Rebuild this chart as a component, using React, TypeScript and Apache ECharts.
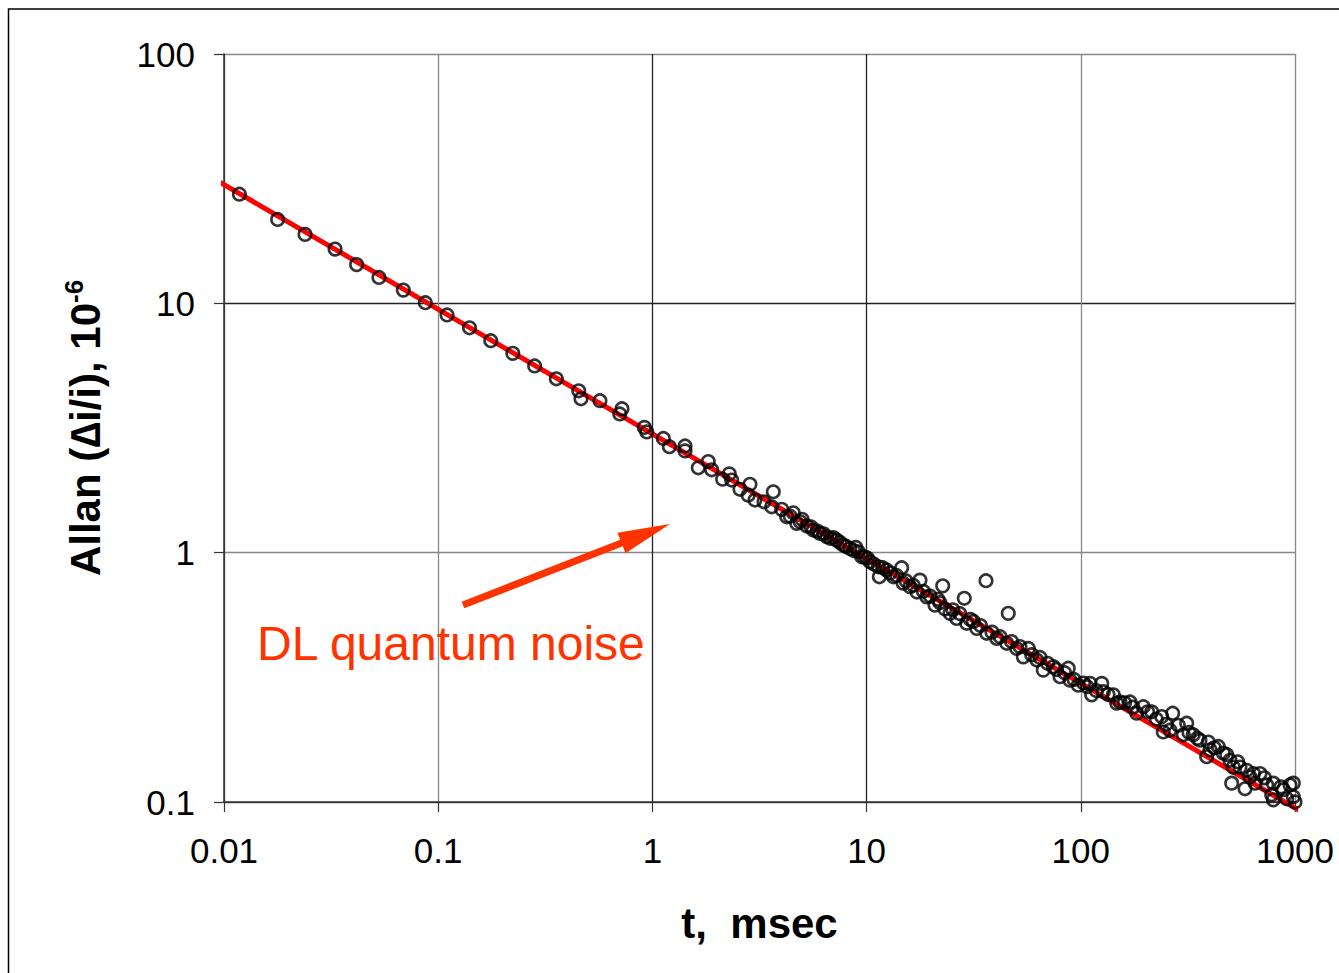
import React, { useEffect, useRef } from "react";
import * as echarts from "echarts";

const xTickLabels = ["0.01", "0.1", "1", "10", "100", "1000"];
const yTickLabels = ["0.1", "1", "10", "100"];

const tMsec = [
  0.0118, 0.0178, 0.0239, 0.033, 0.0416, 0.0529, 0.0687, 0.0871, 0.11, 0.14,
  0.176, 0.223, 0.282, 0.356, 0.453, 0.464, 0.569, 0.704, 0.721, 0.917,
  0.941, 1.125, 1.2, 1.42, 1.42, 1.638, 1.824, 1.891, 2.128, 2.286,
  2.345, 2.564, 2.8, 2.855, 3.013, 3.319, 3.606, 3.667, 4.015, 4.236,
  4.548, 4.717, 5.253, 5.64, 6.06, 6.51, 7.25, 7.78, 8.36, 9.15,
  9.49, 10.37, 11.34, 11.47, 12.41, 13.33, 14.58, 14.79, 15.94, 17.19,
  17.75, 19.08, 20.86, 22.66, 23.23, 24.52, 26.34, 28.58, 29.33, 32.66,
  36.09, 36.37, 40.5, 45.1, 45.86, 50.2, 53.9, 56.9, 62.3, 66.8,
  74.4, 80.0, 87.4, 89.0, 97.3, 110.4, 112.4, 125.2, 127.4, 141.8,
  147.2, 152.4, 169.7, 182.4, 195.8, 214.3, 238.6, 242.7, 260.9, 268.5,
  285.3, 301.0, 312.2, 335.1, 360.1, 387.0, 393.8, 401.1, 438.5, 462.8,
  497.1, 506.4, 515.2, 553.6, 584.4, 595.0, 616.6, 650.7, 686.6, 737.9,
  778.3, 791.9, 791.9, 882.0, 915.0, 947.8, 982.0, 982.0, 1000,
  4.4, 4.9, 5.0, 5.5, 5.9, 6.3, 6.8, 7.0, 7.5, 8.0,
  8.7, 8.9, 9.8, 10.1, 10.8, 11.9, 12.9, 13.8, 15.3, 16.5,
  18.4, 19.8, 21.5, 22.0, 25.3, 27.2, 30.5, 31.5, 34.0, 38.5,
  42.0, 47.5, 52.0, 59.0, 64.5, 70.0, 77.0, 84.0, 93.0, 103.0,
  107.0, 118.0, 134.0, 160.0, 175.0, 205.0, 225.0, 250.0, 320.0, 350.0,
  420.0, 480.0, 540.0, 640.0, 720.0, 860.0,
];

const allanDev = [
  27.4, 21.7, 18.9, 16.5, 14.3, 12.7, 11.3, 10.06, 8.98, 7.98,
  7.08, 6.3, 5.61, 4.98, 4.46, 4.14, 4.07, 3.6, 3.78, 3.18,
  3.05, 2.87, 2.66, 2.68, 2.56, 2.19, 2.32, 2.15, 1.97, 2.07,
  1.955, 1.795, 1.7, 1.88, 1.626, 1.6, 1.528, 1.755, 1.492, 1.393,
  1.445, 1.311, 1.279, 1.232, 1.195, 1.158, 1.123, 1.073, 1.04, 1.008,
  0.963, 0.919, 0.878, 0.8, 0.851, 0.8, 0.87, 0.755, 0.73, 0.695,
  0.776, 0.665, 0.616, 0.736, 0.594, 0.571, 0.545, 0.656, 0.521, 0.497,
  0.772, 0.475, 0.453, 0.433, 0.571, 0.413, 0.382, 0.413, 0.371, 0.338,
  0.349, 0.318, 0.344, 0.308, 0.294, 0.299, 0.269, 0.299, 0.277, 0.269,
  0.249, 0.252, 0.252, 0.227, 0.241, 0.23, 0.22, 0.191, 0.194, 0.227,
  0.203, 0.186, 0.207, 0.186, 0.177, 0.152, 0.174, 0.162, 0.167, 0.157,
  0.147, 0.119, 0.138, 0.138, 0.113, 0.134, 0.126, 0.119, 0.13, 0.117,
  0.107, 0.119, 0.102, 0.112, 0.103, 0.117, 0.105, 0.119, 0.1,
  1.40, 1.33, 1.36, 1.27, 1.22, 1.19, 1.14, 1.15, 1.10, 1.06,
  1.02, 1.05, 0.96, 0.95, 0.90, 0.87, 0.83, 0.81, 0.77, 0.74,
  0.70, 0.67, 0.65, 0.63, 0.59, 0.57, 0.54, 0.53, 0.51, 0.48,
  0.46, 0.44, 0.42, 0.39, 0.38, 0.36, 0.34, 0.33, 0.31, 0.30,
  0.29, 0.28, 0.27, 0.25, 0.24, 0.23, 0.215, 0.205, 0.19, 0.18,
  0.165, 0.155, 0.145, 0.13, 0.125, 0.115,
];

const fitT = [0.0092, 1060];
const fitAllan = [31.2, 0.092];

const FONT = "'Liberation Sans', Arial, Helvetica, sans-serif";

export default function App() {
  const ref = useRef<HTMLDivElement>(null);

  useEffect(() => {
    if (!ref.current) return;
    const prevMargin = document.body.style.margin;
    document.body.style.margin = "0";
    const chart = echarts.init(ref.current, undefined, { renderer: "svg" });

    const scatterData = tMsec.map((t, i) => [t, allanDev[i]]);
    const fitData = fitT.map((t, i) => [t, fitAllan[i]]);

    const fmt = (labels: string[], offset: number) => (v: number) => {
      const e = Math.round(Math.log10(v));
      return labels[e + offset] ?? "";
    };

    chart.setOption({
      animation: false,
      backgroundColor: "#fff",
      grid: {
        left: 224,
        top: 54,
        width: 1071,
        height: 748,
        containLabel: false,
        outerBoundsMode: "none",
      },
      xAxis: {
        type: "log",
        logBase: 10,
        min: 0.01,
        max: 1000,
        name: "t,  msec",
        nameLocation: "middle",
        nameGap: 100,
        nameTextStyle: { fontSize: 42, fontWeight: "bold", color: "#000", fontFamily: FONT },
        axisLine: { show: true, lineStyle: { color: "#333", width: 1.5 } },
        axisTick: { show: true, inside: false, length: 10, lineStyle: { color: "#333", width: 1.2 } },
        minorTick: { show: false },
        axisLabel: { fontSize: 35, color: "#000", margin: 31, fontFamily: FONT, formatter: fmt(xTickLabels, 2) },
        splitLine: {
          show: true,
          lineStyle: { color: ["#444", "#888", "#222", "#222", "#888", "#888"], width: 1.3 },
        },
      },
      yAxis: {
        type: "log",
        logBase: 10,
        min: 0.1,
        max: 100,
        name: "{b|Allan (∆i/i), 10}{s|-6}",
        nameLocation: "middle",
        nameGap: 115,
        nameTextStyle: {
          fontSize: 42,
          fontWeight: "bold",
          color: "#000",
          fontFamily: FONT,
          rich: {
            b: { fontSize: 42, fontWeight: "bold", fontFamily: FONT, color: "#000", lineHeight: 48 },
            s: { fontSize: 26, fontWeight: "bold", fontFamily: FONT, color: "#000", verticalAlign: "top", lineHeight: 48 },
          },
        },
        axisLine: { show: true, lineStyle: { color: "#333", width: 1.5 } },
        axisTick: { show: true, inside: false, length: 10, lineStyle: { color: "#333", width: 1.2 } },
        minorTick: { show: false },
        axisLabel: { fontSize: 35, color: "#000", margin: 29, fontFamily: FONT, formatter: fmt(yTickLabels, 1) },
        splitLine: {
          show: true,
          lineStyle: { color: ["#444", "#888", "#222", "#888"], width: 1.3 },
        },
      },
      series: [
        {
          type: "line",
          data: fitData,
          symbol: "none",
          clip: false,
          lineStyle: { color: "#ff0000", width: 5 },
          z: 2,
        },
        {
          type: "scatter",
          data: scatterData,
          symbol: "circle",
          symbolSize: 12.5,
          itemStyle: { color: "rgba(0,0,0,0)", borderColor: "#000", borderWidth: 2.6 },
          z: 3,
        },
      ],
      graphic: [
        {
          type: "rect",
          shape: { x: 8.5, y: 9, width: 3000, height: 3000 },
          style: { fill: "none", stroke: "#000", lineWidth: 1.5 },
          silent: true,
        },
        {
          type: "polygon",
          shape: {
            points: [
              [461.7, 601.7],
              [464.3, 608.3],
              [622.8, 546.3],
              [625.5, 553.2],
              [670, 524],
              [617.5, 532.8],
              [620.2, 539.7],
            ],
          },
          style: { fill: "#FF3300" },
          z: 10,
        },
        {
          type: "text",
          x: 257,
          y: 643,
          style: {
            text: "DL quantum noise",
            fontSize: 48,
            fontFamily: FONT,
            fill: "#FF3300",
            verticalAlign: "middle",
            align: "left",
          },
          z: 10,
        },
      ],
    });

    return () => {
      chart.dispose();
      document.body.style.margin = prevMargin;
    };
  }, []);

  return <div ref={ref} style={{ width: 1339, height: 973 }} />;
}
